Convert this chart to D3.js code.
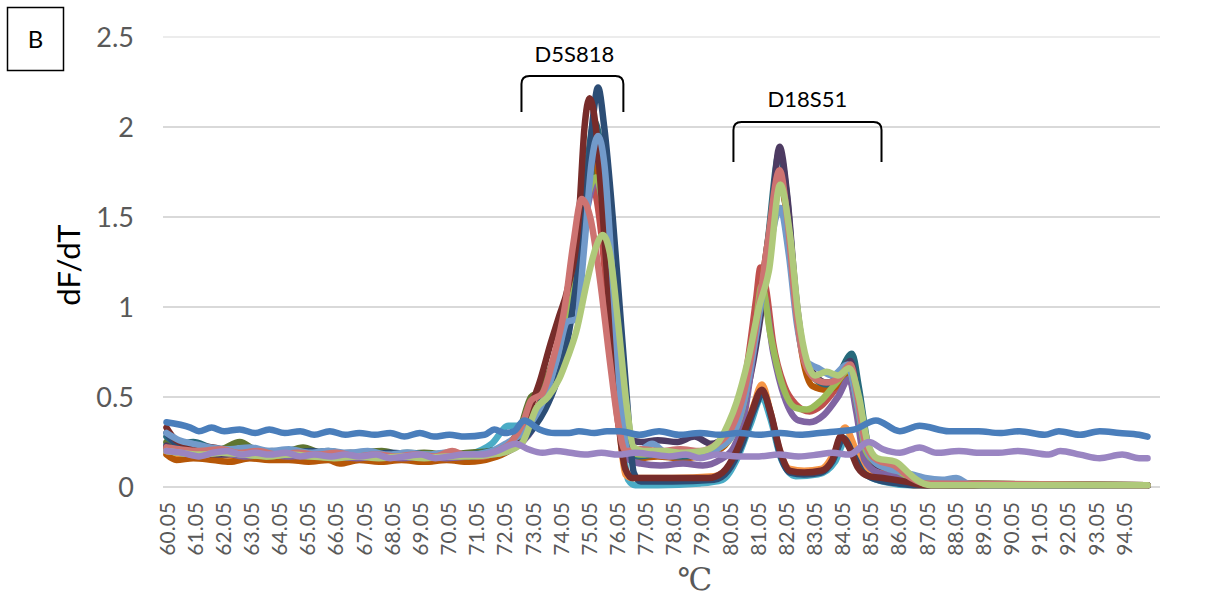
<!DOCTYPE html>
<html>
<head>
<meta charset="utf-8">
<script src="https://cdn.jsdelivr.net/npm/d3@7"></script>
<style>
  body { margin: 0; background: #fff; }
  svg { display: block; }
  text { font-family: Lato, 'Open Sans', sans-serif; }
</style>
</head>
<body>
<svg id="chart"></svg>
<script>
// melt curves, [temperature, dF/dT]
let cyan = [[60.05,.24],[60.5,.21],[61.2,.19],[62,.18],[62.8,.17],[63.6,.16],[64.4,.17],[65.2,.16],[66,.15],[66.8,.16],[67.6,.15],[68.4,.16],[69.2,.14],[70,.16],[70.8,.18],[71.6,.24],[72.2,.34],[72.6,.34],[73,.36],[73.4,.45],[73.8,.6],[74.2,.85],[74.6,1.2],[75,1.6],[75.3,1.75],[75.6,1.5],[75.9,.9],[76.2,.35],[76.45,.04],[76.7,.01],[77.5,.01],[79,.02],[79.8,.04],[80.3,.15],[80.8,.35],[81.2,.5],[81.5,.38],[81.9,.15],[82.4,.06],[83.2,.07],[83.8,.14],[84.2,.27],[84.5,.18],[84.9,.07],[85.5,.03],[86.5,.01],[94.9,.01]]
let orange = [[60.05,.2],[60.5,.18],[61.2,.17],[62,.18],[62.8,.16],[63.6,.17],[64.4,.16],[65.2,.17],[66,.15],[66.8,.16],[67.6,.15],[68.4,.16],[69.2,.15],[70,.16],[70.8,.17],[71.6,.19],[72.2,.22],[72.7,.27],[73.1,.35],[73.5,.5],[73.9,.72],[74.3,1],[74.7,1.4],[75,1.7],[75.2,1.76],[75.5,1.5],[75.8,.95],[76.1,.4],[76.35,.07],[76.6,.05],[78,.05],[79.5,.06],[80,.11],[80.5,.27],[80.9,.45],[81.2,.57],[81.5,.42],[81.8,.22],[82.2,.1],[82.7,.09],[83.3,.1],[83.8,.2],[84.15,.33],[84.5,.22],[84.8,.1],[85.3,.06],[86,.04],[86.6,.01],[94.9,.01]]
let red = [[60.05,.22],[60.5,.2],[61.2,.19],[62,.2],[62.8,.18],[63.6,.19],[64.4,.18],[65.2,.19],[66,.17],[66.8,.18],[67.6,.17],[68.4,.18],[69.2,.17],[70,.19],[70.8,.18],[71.6,.2],[72.2,.23],[72.7,.3],[73.1,.4],[73.5,.55],[73.9,.75],[74.3,1],[74.7,1.35],[75,1.6],[75.2,1.66],[75.5,1.4],[75.8,.85],[76.1,.35],[76.4,.2],[76.8,.18],[77.5,.19],[78.3,.17],[79,.18],[79.6,.2],[80,.26],[80.4,.42],[80.7,.7],[81,1.05],[81.15,1.22],[81.35,1.1],[81.6,.8],[82,.56],[82.4,.46],[82.9,.42],[83.3,.45],[83.8,.54],[84.3,.64],[84.6,.45],[84.9,.2],[85.3,.12],[85.8,.09],[86.4,.05],[87,.02],[94.9,.01]]
let olive = [[60.05,.25],[60.5,.21],[61.2,.2],[62,.21],[62.65,.25],[63.3,.2],[64.1,.19],[64.9,.22],[65.5,.19],[66.2,.18],[67,.19],[67.7,.2],[68.4,.18],[69.2,.19],[70,.18],[70.8,.19],[71.6,.2],[72.2,.24],[72.6,.32],[73,.5],[73.3,.53],[73.6,.62],[74,.82],[74.4,1.1],[74.8,1.45],[75.1,1.7],[75.35,1.8],[75.6,1.55],[75.9,1],[76.2,.4],[76.45,.2],[76.8,.18],[77.5,.19],[78.3,.18],[79,.19],[79.6,.22],[80.1,.3],[80.6,.5],[81,.85],[81.4,1.3],[81.8,1.7],[82.1,1.5],[82.4,1],[82.7,.72],[83.1,.6],[83.5,.57],[83.9,.6],[84.35,.7],[84.6,.55],[84.9,.25],[85.3,.15],[85.9,.12],[86.5,.05],[87,.02],[88,.01],[94.9,.01]]
let darkOrange = [[60.05,.18],[60.4,.15],[61,.16],[61.7,.15],[62.3,.14],[63,.16],[63.7,.15],[64.4,.15],[65.1,.14],[65.8,.15],[66.2,.13],[66.9,.15],[67.6,.14],[68.4,.15],[69.2,.14],[70,.15],[70.8,.14],[71.6,.16],[72.2,.2],[72.7,.26],[73.1,.35],[73.5,.5],[73.9,.75],[74.3,1.05],[74.7,1.45],[75,1.75],[75.25,1.82],[75.55,1.55],[75.85,1],[76.15,.4],[76.4,.18],[76.8,.16],[77.5,.17],[78.3,.16],[79,.17],[79.6,.2],[80.1,.28],[80.6,.52],[81,.9],[81.4,1.35],[81.8,1.72],[82.1,1.5],[82.4,1],[82.7,.68],[83,.56],[83.5,.54],[84,.58],[84.3,.66],[84.55,.5],[84.85,.22],[85.2,.13],[85.8,.1],[86.4,.05],[87,.02],[94.9,.01]]
let teal = [[60.05,.28],[60.5,.24],[61,.25],[61.6,.22],[62.3,.2],[63,.21],[63.7,.19],[64.4,.2],[65.1,.19],[65.8,.2],[66.5,.18],[67.2,.19],[67.9,.18],[68.6,.19],[69.3,.18],[70,.17],[70.8,.18],[71.6,.2],[72.2,.23],[72.7,.3],[73.1,.4],[73.5,.52],[73.9,.7],[74.3,.98],[74.7,1.4],[75,1.8],[75.25,2.03],[75.5,1.85],[75.8,1.2],[76.1,.5],[76.35,.2],[76.7,.17],[77.5,.18],[78.3,.17],[79,.18],[79.6,.21],[80.1,.28],[80.6,.48],[81,.85],[81.4,1.35],[81.83,1.86],[82.1,1.6],[82.4,1.05],[82.7,.72],[83.1,.6],[83.5,.57],[83.9,.62],[84.4,.74],[84.65,.55],[84.95,.25],[85.3,.14],[85.9,.11],[86.5,.05],[87,.02],[94.9,.01]]
let darkPurple = [[60.05,.23],[60.5,.2],[61.2,.19],[62,.18],[62.8,.19],[63.6,.18],[64.4,.19],[65.2,.18],[66,.17],[66.8,.18],[67.6,.17],[68.4,.18],[69.2,.17],[70,.18],[70.8,.17],[71.6,.19],[72.2,.21],[72.7,.28],[73.1,.36],[73.5,.48],[73.9,.65],[74.3,.92],[74.7,1.3],[75,1.65],[75.3,1.85],[75.55,1.7],[75.85,1.15],[76.15,.45],[76.45,.27],[76.9,.25],[77.5,.26],[78.2,.25],[78.8,.28],[79.4,.24],[79.9,.28],[80.4,.38],[80.8,.62],[81.2,1],[81.5,1.4],[81.83,1.89],[82.1,1.62],[82.4,1.08],[82.7,.74],[83.1,.62],[83.5,.58],[83.9,.6],[84.35,.7],[84.6,.5],[84.9,.22],[85.3,.12],[85.9,.1],[86.5,.05],[87,.02],[94.9,.01]]
let purple = [[60.05,.21],[60.5,.19],[61.2,.18],[62,.19],[62.8,.17],[63.6,.18],[64.4,.17],[65.2,.18],[66,.17],[66.8,.16],[67.6,.17],[68.4,.16],[69.2,.17],[70,.16],[70.8,.17],[71.6,.18],[72.2,.2],[72.7,.25],[73.1,.33],[73.5,.45],[73.9,.62],[74.3,.88],[74.7,1.25],[75,1.55],[75.3,1.7],[75.6,1.5],[75.9,.9],[76.2,.35],[76.5,.15],[76.9,.13],[77.6,.12],[78.4,.13],[79.1,.12],[79.7,.15],[80.2,.22],[80.6,.42],[80.95,.8],[81.25,1.07],[81.6,.75],[82,.5],[82.5,.37],[82.9,.36],[83.4,.4],[83.9,.5],[84.3,.6],[84.55,.42],[84.85,.15],[85.3,.08],[85.9,.06],[86.5,.03],[87.2,.01],[94.9,.01]]
let green = [[60.05,.2],[60.5,.19],[61.2,.18],[62,.19],[62.8,.18],[63.6,.17],[64.4,.18],[65.2,.17],[66,.18],[66.8,.17],[67.6,.18],[68.4,.17],[69.2,.18],[70,.17],[70.8,.18],[71.6,.19],[72.2,.22],[72.7,.28],[73.1,.38],[73.5,.5],[73.9,.68],[74.3,.95],[74.7,1.3],[75,1.6],[75.3,1.72],[75.6,1.5],[75.9,.95],[76.2,.4],[76.5,.2],[76.9,.18],[77.6,.19],[78.4,.18],[79.1,.19],[79.7,.22],[80.2,.3],[80.6,.5],[80.95,.85],[81.2,1.12],[81.5,.85],[81.9,.58],[82.4,.44],[82.8,.43],[83.3,.48],[83.8,.57],[84.3,.65],[84.6,.45],[84.9,.2],[85.3,.13],[85.9,.1],[86.5,.05],[87.2,.02],[94.9,.01]]
let navy = [[60.05,.3],[60.4,.24],[61,.22],[61.7,.2],[62.4,.21],[63.1,.19],[63.8,.2],[64.5,.19],[65.2,.2],[65.9,.18],[66.6,.19],[67.3,.18],[68,.19],[68.7,.18],[69.4,.17],[70.1,.18],[70.8,.17],[71.6,.19],[72.2,.21],[72.7,.26],[73.1,.33],[73.5,.43],[73.9,.58],[74.3,.82],[74.7,1.25],[75,1.7],[75.2,2.05],[75.38,2.22],[75.6,2],[75.9,1.5],[76.15,1],[76.4,.5],[76.65,.08],[76.9,.03],[78,.03],[79.5,.04],[80,.09],[80.5,.24],[80.9,.42],[81.25,.52],[81.55,.38],[81.85,.18],[82.2,.08],[82.7,.07],[83.3,.08],[83.7,.14],[84.1,.27],[84.45,.18],[84.8,.08],[85.3,.04],[86,.02],[86.6,.01],[94.9,.01]]
let darkRed = [[60.05,.33],[60.4,.26],[61,.23],[61.7,.22],[62.4,.2],[63.1,.21],[63.8,.19],[64.5,.2],[65.2,.18],[65.9,.19],[66.6,.18],[67.3,.19],[68,.17],[68.7,.18],[69.4,.17],[70.1,.18],[70.8,.17],[71.6,.19],[72.2,.22],[72.6,.3],[73,.45],[73.3,.58],[73.7,.8],[74,.95],[74.3,1.1],[74.7,1.5],[74.9,2],[75.08,2.16],[75.3,2],[75.6,1.4],[75.9,.75],[76.15,.3],[76.35,.1],[76.6,.05],[78,.05],[79.3,.05],[79.8,.08],[80.3,.2],[80.8,.4],[81.2,.54],[81.5,.42],[81.85,.2],[82.2,.09],[82.7,.08],[83.3,.09],[83.7,.15],[84,.28],[84.3,.22],[84.6,.11],[85,.06],[85.5,.05],[86.3,.03],[87,.01],[94.9,.01]]
let lightBlue = [[60.05,.3],[60.5,.26],[61,.24],[61.6,.22],[62.3,.21],[63,.22],[63.7,.2],[64.4,.21],[65.1,.19],[65.8,.2],[66.5,.19],[67.2,.2],[67.9,.18],[68.6,.19],[69.3,.18],[70,.19],[70.8,.18],[71.6,.2],[72.2,.25],[72.7,.3],[73.1,.38],[73.5,.5],[73.9,.7],[74.3,.92],[74.6,.93],[74.9,1.35],[75.15,1.8],[75.38,1.95],[75.6,1.8],[75.9,1.15],[76.2,.45],[76.45,.2],[76.8,.2],[77.3,.24],[77.8,.19],[78.5,.18],[79.2,.19],[79.7,.22],[80.2,.3],[80.6,.5],[81,.85],[81.4,1.25],[81.85,1.55],[82.15,1.3],[82.45,.9],[82.75,.7],[83.2,.66],[83.7,.62],[84.25,.68],[84.55,.5],[84.85,.25],[85.2,.14],[85.7,.1],[86.3,.08],[87,.05],[87.6,.04],[88.1,.05],[88.5,.02],[89,.01],[94.9,.01]]
let salmon = [[60.05,.22],[60.5,.21],[61.2,.2],[62,.21],[62.6,.19],[63.3,.2],[64,.18],[64.7,.19],[65.4,.18],[66.1,.19],[66.8,.17],[67.5,.18],[68.2,.17],[68.9,.18],[69.6,.17],[70.2,.2],[70.6,.18],[71.3,.17],[71.8,.2],[72.3,.25],[72.7,.35],[73,.48],[73.4,.52],[73.8,.72],[74.2,1],[74.5,1.35],[74.8,1.6],[75.1,1.5],[75.45,1.15],[75.8,.7],[76.1,.35],[76.35,.2],[76.9,.21],[77.6,.2],[78.3,.21],[79,.2],[79.6,.24],[80.1,.32],[80.6,.55],[81,.9],[81.4,1.35],[81.83,1.76],[82.1,1.5],[82.4,1],[82.7,.7],[83.1,.6],[83.5,.58],[83.9,.6],[84.35,.68],[84.6,.5],[84.9,.23],[85.3,.15],[85.9,.12],[86.5,.05],[87,.02],[94.9,.01]]
let lightGreen = [[60.05,.2],[60.5,.19],[61.2,.18],[62,.19],[62.8,.18],[63.6,.17],[64.4,.18],[65.2,.17],[66,.16],[66.8,.17],[67.6,.16],[68.4,.17],[69.2,.16],[70,.17],[70.8,.17],[71.6,.18],[72.2,.2],[72.7,.25],[73.2,.44],[73.6,.5],[74,.6],[74.3,.72],[74.6,.86],[75,1.15],[75.3,1.33],[75.55,1.4],[75.8,1.3],[76.1,.9],[76.4,.45],[76.65,.22],[77,.2],[77.7,.2],[78.4,.19],[79.1,.2],[79.6,.24],[80,.35],[80.3,.47],[80.7,.7],[81.1,1],[81.45,1.2],[81.85,1.68],[82.2,1.4],[82.5,.95],[82.8,.7],[83.1,.62],[83.5,.64],[83.9,.62],[84.3,.66],[84.65,.5],[84.95,.25],[85.3,.16],[85.95,.14],[86.4,.08],[86.7,.04],[87.2,.01],[94.9,.01]]
let flatBlue = [[60.05,.36],[60.9,.33],[61.2,.31],[61.65,.33],[62.1,.31],[62.65,.32],[63.2,.3],[63.7,.32],[64.25,.3],[64.8,.31],[65.3,.29],[65.85,.31],[66.4,.29],[66.9,.3],[67.45,.29],[68,.3],[68.5,.28],[69.05,.3],[69.55,.28],[70.1,.29],[70.65,.28],[71.35,.29],[71.7,.32],[72.05,.3],[72.4,.31],[72.75,.37],[73.3,.32],[73.85,.3],[74.35,.3],[74.7,.31],[75.25,.3],[75.7,.31],[76.15,.31],[76.85,.29],[77.55,.31],[78.25,.29],[79,.3],[79.7,.29],[80.4,.3],[81.1,.29],[81.85,.3],[82.55,.29],[83.25,.3],[83.95,.31],[84.5,.32],[85.25,.37],[86.1,.31],[86.8,.34],[87.85,.31],[88.9,.31],[89.65,.3],[90.35,.31],[91.25,.29],[91.75,.31],[92.5,.29],[93.2,.31],[93.9,.3],[94.6,.29],[94.9,.28]]
let flatPurple = [[60.05,.2],[60.6,.19],[61.2,.17],[61.7,.19],[62.2,.2],[62.7,.18],[63.2,.19],[63.7,.18],[64.3,.19],[64.8,.17],[65.3,.18],[65.9,.17],[66.4,.18],[66.9,.17],[67.5,.18],[68,.16],[68.5,.17],[69.1,.18],[69.6,.16],[70.1,.17],[70.6,.18],[71.2,.18],[71.8,.2],[72.45,.24],[72.9,.21],[73.4,.19],[73.9,.2],[74.4,.19],[74.9,.18],[75.5,.19],[76.1,.18],[76.7,.19],[77.3,.18],[77.9,.17],[78.5,.18],[79,.16],[79.6,.18],[80.4,.17],[81.1,.17],[81.8,.18],[82.5,.17],[83.2,.18],[83.7,.19],[84.3,.18],[85,.25],[85.5,.21],[86.1,.19],[86.8,.22],[87.4,.19],[88.2,.2],[89,.19],[89.6,.19],[90.3,.2],[91.4,.18],[91.8,.2],[92.5,.18],[93.2,.16],[94,.18],[94.6,.16],[94.9,.16]]

// drawing order, bottom first
let seriesList = [cyan, orange, red, olive, darkOrange, teal, darkPurple, purple, green, navy, darkRed, lightBlue, salmon, lightGreen, flatBlue, flatPurple]
let seriesColors = ['#4bacc6', '#f79646', '#c0504d', '#5f7530', '#b65708', '#276a7c', '#4d3b62', '#8064a2', '#9bbb59', '#2c4d75', '#772c2a', '#729aca', '#cd7371', '#afc97a', '#4a7ebb', '#9a85c2']

let xTicks = [60.05, 61.05, 62.05, 63.05, 64.05, 65.05, 66.05, 67.05, 68.05, 69.05, 70.05, 71.05, 72.05, 73.05, 74.05, 75.05, 76.05, 77.05, 78.05, 79.05, 80.05, 81.05, 82.05, 83.05, 84.05, 85.05, 86.05, 87.05, 88.05, 89.05, 90.05, 91.05, 92.05, 93.05, 94.05]
let yTicks = [0, 0.5, 1, 1.5, 2, 2.5]

// locus brackets: name, temperature span, top level, leg end level, label position
let lociNames = ['D5S818', 'D18S51']
let lociFrom = [72.66, 80.19]
let lociTo = [76.28, 85.45]
let lociTop = [2.283, 2.028]
let lociFoot = [2.083, 1.806]
let lociLabelT = [74.54, 82.82]
let lociLabelV = [2.36, 2.11]

let width = 1221
let height = 603

let svg = d3.select('#chart').attr('width', width).attr('height', height)

let xScale = d3.scaleLinear().domain([60.05, 94.05]).range([166.5, 1123.6])
let yScale = d3.scaleLinear().domain([0, 2.5]).range([487, 37])

let plotLeft = 163
let plotRight = 1160

// gridlines
svg.append('g')
    .selectAll('line')
    .data(yTicks)
    .enter()
    .append('line')
    .attr('x1', plotLeft)
    .attr('x2', plotRight)
    .attr('y1', d => yScale(d))
    .attr('y2', d => yScale(d))
    .attr('stroke', d => d === 2.5 ? '#ececec' : '#d9d9d9')
    .attr('stroke-width', 2)

// y axis
let yAxis = d3.axisLeft(yScale).tickValues(yTicks).tickSize(0).tickPadding(0).tickFormat(d => String(d))
let yG = svg.append('g').attr('transform', 'translate(134, 0)').call(yAxis)
yG.select('.domain').remove()
yG.selectAll('text')
    .attr('fill', '#595959')
    .style('font-size', '27px')
    .attr('dy', '0.36em')

// x axis
let xAxis = d3.axisBottom(xScale).tickValues(xTicks).tickSize(0).tickFormat(d => d.toFixed(2))
let xG = svg.append('g').attr('transform', 'translate(0, 487)').call(xAxis)
xG.select('.domain').remove()
xG.selectAll('text')
    .attr('transform', 'rotate(-90)')
    .attr('x', -15)
    .attr('y', 0)
    .attr('dy', '0.36em')
    .style('text-anchor', 'end')
    .style('font-size', '21px')
    .attr('fill', '#595959')

// curves
let line = d3.line()
    .x(d => xScale(d[0]))
    .y(d => yScale(d[1]))
    .curve(d3.curveMonotoneX)

svg.append('g')
    .selectAll('path')
    .data(seriesList)
    .enter()
    .append('path')
    .attr('d', d => line(d))
    .attr('fill', 'none')
    .attr('stroke', (d, i) => seriesColors[i])
    .attr('stroke-width', 6.5)
    .attr('stroke-linejoin', 'round')
    .attr('stroke-linecap', 'round')

// brackets over the two loci
let bracket = (i) => {
    let x1 = xScale(lociFrom[i])
    let x2 = xScale(lociTo[i])
    let yt = yScale(lociTop[i])
    let yb = yScale(lociFoot[i])
    let r = 8
    return 'M' + x1 + ',' + yb + ' L' + x1 + ',' + (yt + r) + ' Q' + x1 + ',' + yt + ' ' + (x1 + r) + ',' + yt +
        ' L' + (x2 - r) + ',' + yt + ' Q' + x2 + ',' + yt + ' ' + x2 + ',' + (yt + r) + ' L' + x2 + ',' + yb
}

let lociG = svg.append('g')
lociNames.forEach((name, i) => {
    lociG.append('path')
        .attr('d', bracket(i))
        .attr('fill', 'none')
        .attr('stroke', '#000')
        .attr('stroke-width', 2)
    lociG.append('text')
        .attr('x', xScale(lociLabelT[i]))
        .attr('y', yScale(lociLabelV[i]))
        .attr('text-anchor', 'middle')
        .style('font-size', '22px')
        .attr('fill', '#000')
        .text(name)
})

// axis titles
svg.append('text')
    .attr('transform', 'translate(80, 265) rotate(-90)')
    .attr('text-anchor', 'middle')
    .style('font-size', '31px')
    .attr('fill', '#000')
    .text('dF/dT')

svg.append('text')
    .attr('x', 695)
    .attr('y', 590)
    .attr('text-anchor', 'middle')
    .style('font-family', "'DejaVu Serif', serif")
    .style('font-size', '31px')
    .attr('fill', '#595959')
    .text('℃')

// panel letter
svg.append('rect')
    .attr('x', 7.5)
    .attr('y', 7.5)
    .attr('width', 56)
    .attr('height', 63)
    .attr('fill', 'none')
    .attr('stroke', '#000')
    .attr('stroke-width', 1.5)

svg.append('text')
    .attr('x', 35.5)
    .attr('y', 39)
    .attr('dy', '0.36em')
    .attr('text-anchor', 'middle')
    .style('font-size', '24px')
    .attr('fill', '#000')
    .text('B')
</script>
</body>
</html>
